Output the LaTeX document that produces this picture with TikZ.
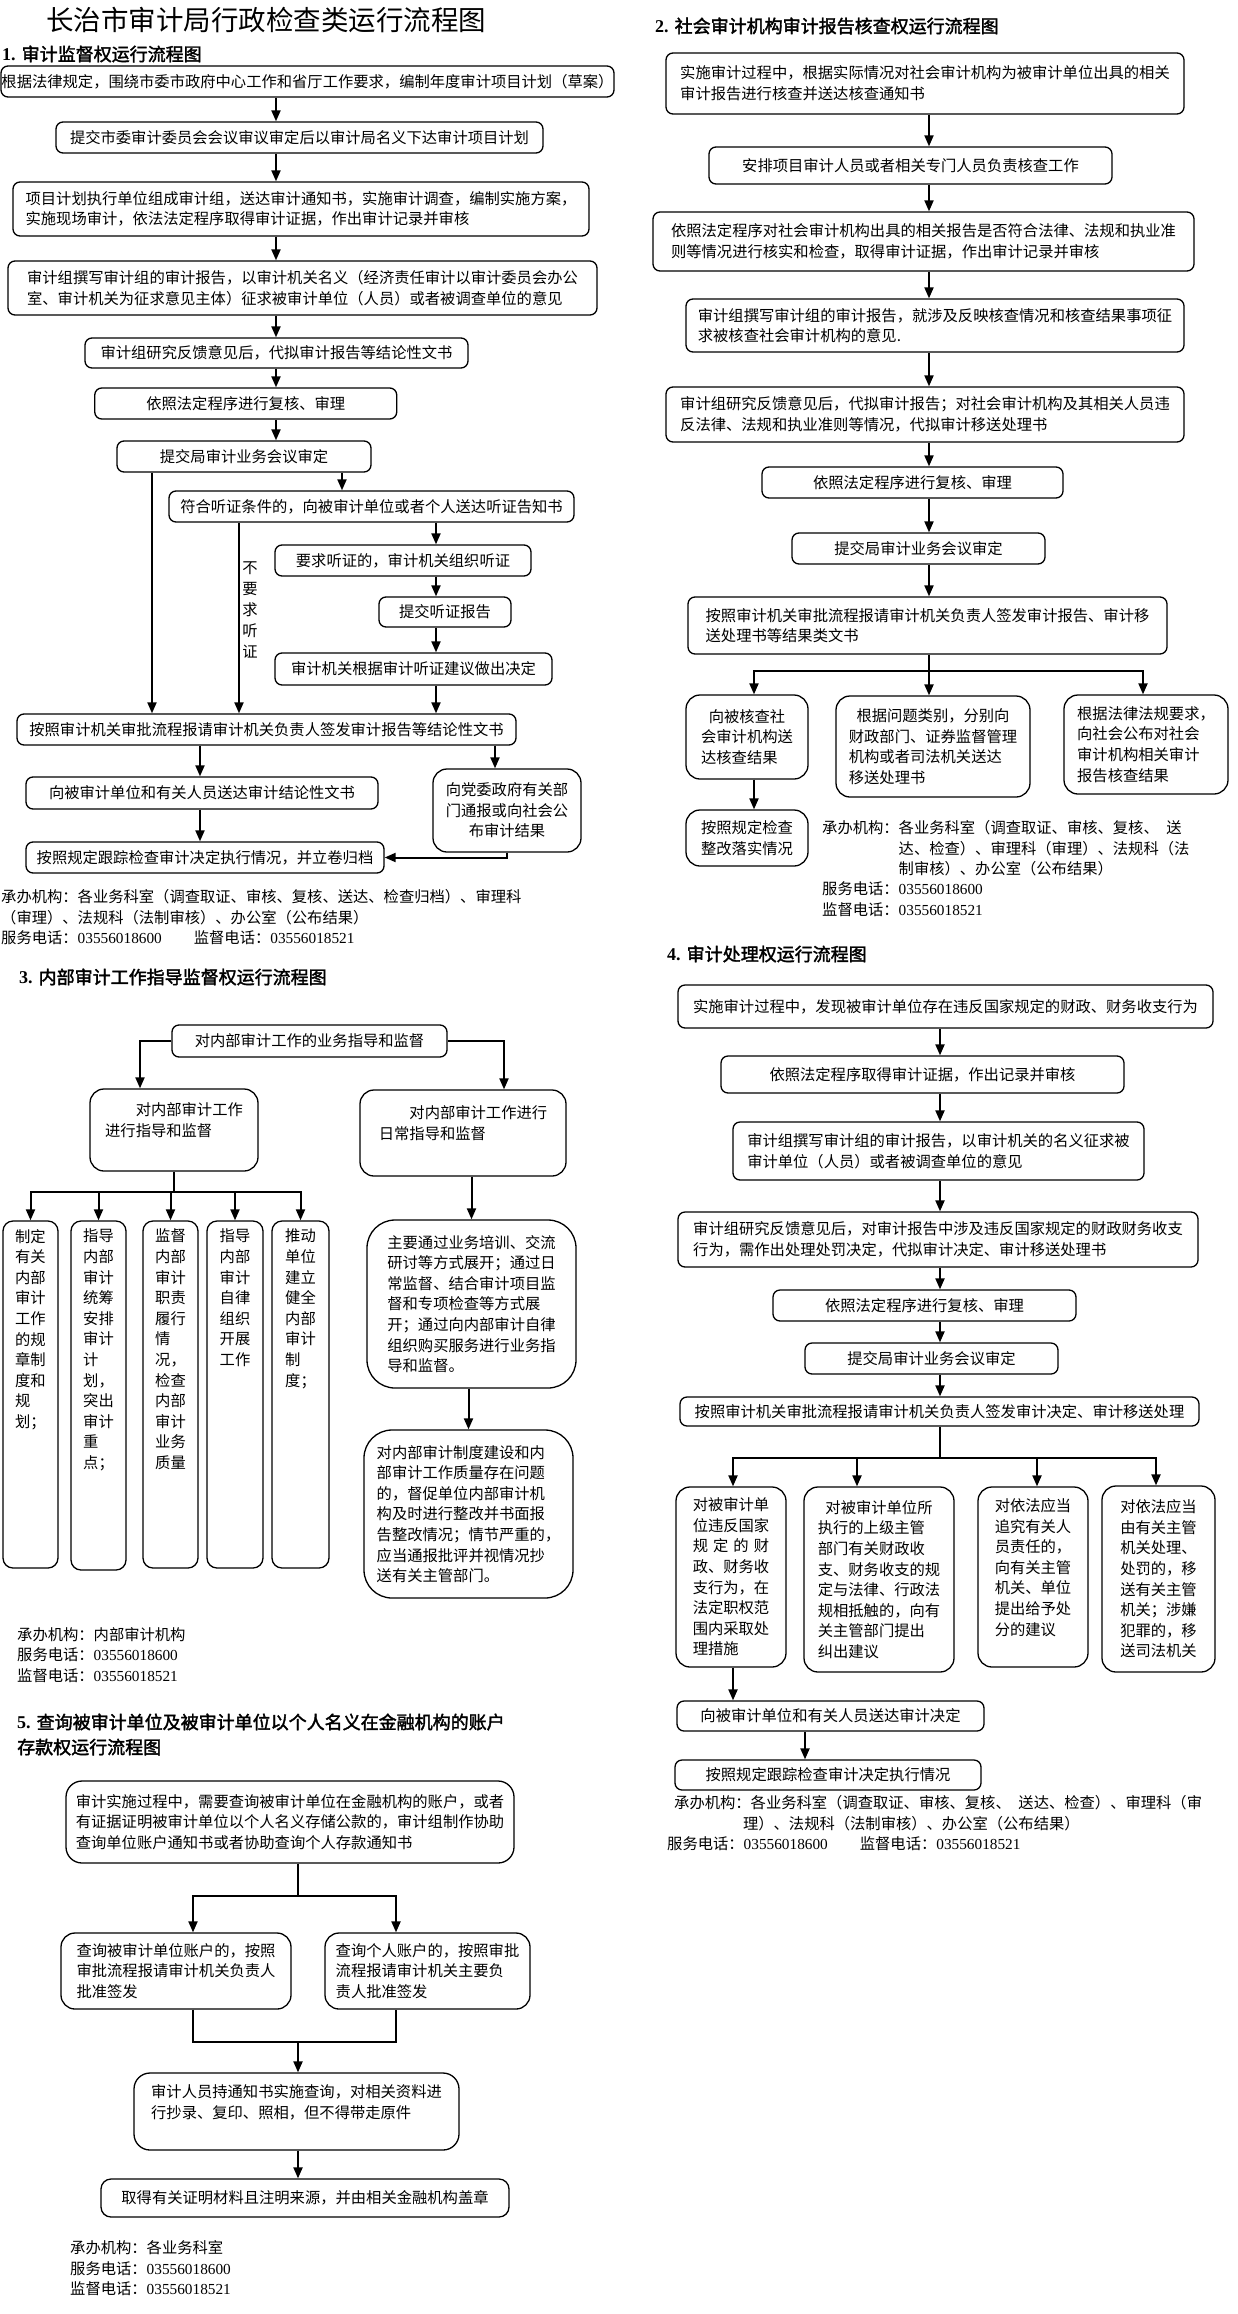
\documentclass[tikz,border=0pt]{standalone}
\usepackage{fontspec}
\setmainfont{Liberation Serif}
\newfontfamily\cjk{Noto Sans CJK SC}[AutoFakeBold=2]
\usetikzlibrary{arrows.meta}

\newcommand{\tel}[1]{{\rmfamily #1}}

\tikzset{
  flowbox/.style={draw, rounded corners=7pt, line width=1.3pt, inner sep=0pt, align=left,
    font=\cjk\fontsize{15.3}{20.6}\selectfont},
  roundbox/.style={flowbox, rounded corners=14pt},
  bigbox/.style={flowbox, rounded corners=28pt},
  arr/.style={line width=2pt, -{Triangle[length=11pt, width=9pt]}},
  link/.style={line width=2pt},
  vtext/.style={anchor=north, inner sep=0pt, align=left, font=\cjk\fontsize{15.3}{20.6}\selectfont},
  notetext/.style={anchor=north west, inner sep=0pt, align=left, font=\cjk\fontsize{15.3}{20.3}\selectfont},
  headtext/.style={anchor=west, inner sep=0pt, align=left, font=\cjk\bfseries\fontsize{18}{25}\selectfont},
}

\begin{document}
\begin{tikzpicture}[x=1pt, y=-1pt]

  \fill[white] (0,0) rectangle (1237,2314);
  \useasboundingbox (0,0) rectangle (1237,2314);

  \node[inner sep=0pt, font=\cjk\fontsize{27.5}{30}\selectfont] (title) at (266,20) {长治市审计局行政检查类运行流程图};

  % -- 1. audit supervision --
  \node[headtext] (h1) at (2,54) {{\rmfamily 1. }审计监督权运行流程图};
  \node[flowbox, minimum width=613, minimum height=31] (a1) at (307.5,81.5) {根据法律规定，围绕市委市政府中心工作和省厅工作要求，编制年度审计项目计划（草案）};
  \node[flowbox, minimum width=487, minimum height=31] (a2) at (299.5,137.5) {提交市委审计委员会会议审议审定后以审计局名义下达审计项目计划};
  \node[flowbox, minimum width=576, minimum height=54] (a3) at (301,209) {项目计划执行单位组成审计组，送达审计通知书，实施审计调查，编制实施方案，\\实施现场审计，依法法定程序取得审计证据，作出审计记录并审核};
  \node[flowbox, minimum width=589, minimum height=54] (a4) at (302.5,288) {审计组撰写审计组的审计报告，以审计机关名义（经济责任审计以审计委员会办公\\室、审计机关为征求意见主体）征求被审计单位（人员）或者被调查单位的意见};
  \node[flowbox, minimum width=383, minimum height=30] (a5) at (276.5,353) {审计组研究反馈意见后，代拟审计报告等结论性文书};
  \node[flowbox, minimum width=302, minimum height=31] (a6) at (245.75,403.5) {依照法定程序进行复核、审理};
  \node[flowbox, minimum width=254, minimum height=31] (a7) at (244,456.5) {提交局审计业务会议审定};
  \node[flowbox, minimum width=405, minimum height=31] (a8) at (371.5,506.5) {符合听证条件的，向被审计单位或者个人送达听证告知书};
  \node[flowbox, minimum width=256, minimum height=31] (a9) at (403,560.5) {要求听证的，审计机关组织听证};
  \node[flowbox, minimum width=132, minimum height=30] (a10) at (445,612) {提交听证报告};
  \node[flowbox, minimum width=277, minimum height=32] (a11) at (413.5,669) {审计机关根据审计听证建议做出决定};
  \node[flowbox, minimum width=499, minimum height=31] (a12) at (266.5,729.5) {按照审计机关审批流程报请审计机关负责人签发审计报告等结论性文书};
  \node[flowbox, minimum width=352, minimum height=32] (a13) at (202,793) {向被审计单位和有关人员送达审计结论性文书};
  \node[roundbox, align=center, minimum width=148, minimum height=83] (a14) at (507,810.5) {向党委政府有关部\\门通报或向社会公\\布审计结果};
  \node[flowbox, minimum width=358, minimum height=31] (a15) at (205,857.5) {按照规定跟踪检查审计决定执行情况，并立卷归档};
  \node[vtext, anchor=center, align=center, font=\cjk\fontsize{15.3}{21}\selectfont] (nohear) at (250,610) {不\\要\\求\\听\\证};

  \coordinate (m1) at (276,0);
  \coordinate (m2) at (152,0);
  \coordinate (m3) at (342,0);
  \coordinate (m4) at (239,0);
  \coordinate (m5) at (436,0);
  \coordinate (m6) at (200,0);
  \coordinate (m7) at (495,0);
  \draw[arr] (a1.south -| m1) -- (a2.north -| m1);
  \draw[arr] (a2.south -| m1) -- (a3.north -| m1);
  \draw[arr] (a3.south -| m1) -- (a4.north -| m1);
  \draw[arr] (a4.south -| m1) -- (a5.north -| m1);
  \draw[arr] (a5.south -| m1) -- (a6.north -| m1);
  \draw[arr] (a6.south -| m1) -- (a7.north -| m1);
  \draw[arr] (a7.south -| m2) -- (a12.north -| m2);
  \draw[arr] (a7.south -| m3) -- (a8.north -| m3);
  \draw[arr] (a8.south -| m4) -- (a12.north -| m4);
  \draw[arr] (a8.south -| m5) -- (a9.north -| m5);
  \draw[arr] (a9.south -| m5) -- (a10.north -| m5);
  \draw[arr] (a10.south -| m5) -- (a11.north -| m5);
  \draw[arr] (a11.south -| m5) -- (a12.north -| m5);
  \draw[arr] (a12.south -| m6) -- (a13.north -| m6);
  \draw[arr] (a13.south -| m6) -- (a15.north -| m6);
  \draw[arr] (a12.south -| m7) -- (a14.north -| m7);
  \draw[arr] (a14.south) |- (a15.east);

  \node[notetext] (s1note) at (1,889.5) {承办机构：各业务科室（调查取证、审核、复核、送达、检查归档）、审理科\\（审理）、法规科（法制审核）、办公室（公布结果）\\服务电话：\tel{03556018600}\hspace{32pt}监督电话：\tel{03556018521}};

  % -- 2. social audit report check --
  \node[headtext] (h2) at (655,26) {{\rmfamily 2. }社会审计机构审计报告核查权运行流程图};
  \node[flowbox, minimum width=518, minimum height=61] (b1) at (925,83.5) {实施审计过程中，根据实际情况对社会审计机构为被审计单位出具的相关\\审计报告进行核查并送达核查通知书};
  \node[flowbox, minimum width=403, minimum height=37] (b2) at (910.5,165.5) {安排项目审计人员或者相关专门人员负责核查工作};
  \node[flowbox, minimum width=541, minimum height=59] (b3) at (923.5,241.5) {依照法定程序对社会审计机构出具的相关报告是否符合法律、法规和执业准\\则等情况进行核实和检查，取得审计证据，作出审计记录并审核};
  \node[flowbox, minimum width=498, minimum height=53] (b4) at (935,325.5) {审计组撰写审计组的审计报告，就涉及反映核查情况和核查结果事项征\\求被核查社会审计机构的意见.};
  \node[flowbox, minimum width=518, minimum height=55] (b5) at (925,414.5) {审计组研究反馈意见后，代拟审计报告；对社会审计机构及其相关人员违\\反法律、法规和执业准则等情况，代拟审计移送处理书};
  \node[flowbox, minimum width=301, minimum height=31] (b6) at (912.5,482.5) {依照法定程序进行复核、审理};
  \node[flowbox, minimum width=253, minimum height=31] (b7) at (918.5,548.5) {提交局审计业务会议审定};
  \node[flowbox, minimum width=479, minimum height=57] (b8) at (927.5,625.5) {按照审计机关审批流程报请审计机关负责人签发审计报告、审计移\\送处理书等结果类文书};
  \node[roundbox, minimum width=122, minimum height=84] (b9) at (747,737) {\hspace*{0.5em}向被核查社\\会审计机构送\\达核查结果};
  \node[roundbox, minimum width=194, minimum height=101] (b10) at (933,746.5) {\hspace*{0.5em}根据问题类别，分别向\\财政部门、证券监督管理\\机构或者司法机关送达\\移送处理书};
  \node[roundbox, minimum width=164, minimum height=99] (b11) at (1146,744.5) {根据法律法规要求，\\向社会公布对社会\\审计机构相关审计\\报告核查结果};
  \node[roundbox, minimum width=122, minimum height=56] (b12) at (747,838) {按照规定检查\\整改落实情况};

  \coordinate (n1) at (929,0);
  \coordinate (n2) at (929,671);
  \coordinate (n3) at (754,671);
  \coordinate (n4) at (1143,671);
  \draw[arr] (b1.south -| n1) -- (b2.north -| n1);
  \draw[arr] (b2.south -| n1) -- (b3.north -| n1);
  \draw[arr] (b3.south -| n1) -- (b4.north -| n1);
  \draw[arr] (b4.south -| n1) -- (b5.north -| n1);
  \draw[arr] (b5.south -| n1) -- (b6.north -| n1);
  \draw[arr] (b6.south -| n1) -- (b7.north -| n1);
  \draw[arr] (b7.south -| n1) -- (b8.north -| n1);
  \draw[link] (b8.south -| n1) -- (n2);
  \draw[link, line cap=rect] (n3) -- (n4);
  \draw[arr] (n3) -- (b9.north -| n3);
  \draw[arr] (n2) -- (b10.north -| n2);
  \draw[arr] (n4) -- (b11.north -| n4);
  \draw[arr] (b9.south -| n3) -- (b12.north -| n3);

  \node[notetext] (s2note) at (822,820.5) {承办机构：各业务科室（调查取证、审核、复核、\hspace{0.5em}送\\\hspace*{5em}达、检查）、审理科（审理）、法规科（法\\\hspace*{5em}制审核）、办公室（公布结果）\\服务电话：\tel{03556018600}\\监督电话：\tel{03556018521}};

  % -- 3. internal audit guidance --
  \node[headtext] (h3) at (19,977) {{\rmfamily 3. }内部审计工作指导监督权运行流程图};
  \node[flowbox, minimum width=275, minimum height=32] (c1) at (309.5,1041) {对内部审计工作的业务指导和监督};
  \node[roundbox, minimum width=168, minimum height=82] (c2) at (174,1130) {\hspace*{2em}对内部审计工作\\进行指导和监督\\\mbox{}};
  \node[roundbox, minimum width=206, minimum height=86] (c3) at (463,1133) {\hspace*{2em}对内部审计工作进行\\日常指导和监督\\\mbox{}};
  \node[roundbox, rounded corners=10pt, minimum width=55, minimum height=347] (d1) at (30.5,1394.5) {};
  \node[roundbox, rounded corners=10pt, minimum width=55, minimum height=349] (d2) at (98.5,1395.5) {};
  \node[roundbox, rounded corners=10pt, minimum width=55, minimum height=347] (d3) at (170.5,1394.5) {};
  \node[roundbox, rounded corners=10pt, minimum width=56, minimum height=347] (d4) at (235,1394.5) {};
  \node[roundbox, rounded corners=10pt, minimum width=57, minimum height=347] (d5) at (300.5,1394.5) {};
  \node[vtext] (d1t) at ([yshift=-8.5pt]d1.north) {制定\\有关\\内部\\审计\\工作\\的规\\章制\\度和\\规\\划；};
  \node[vtext] (d2t) at ([yshift=-8.5pt]d2.north) {指导\\内部\\审计\\统筹\\安排\\审计\\计\\划，\\突出\\审计\\重\\点；};
  \node[vtext] (d3t) at ([yshift=-8.5pt]d3.north) {监督\\内部\\审计\\职责\\履行\\情\\况，\\检查\\内部\\审计\\业务\\质量};
  \node[vtext] (d4t) at ([yshift=-8.5pt]d4.north) {指导\\内部\\审计\\自律\\组织\\开展\\工作};
  \node[vtext] (d5t) at ([yshift=-8.5pt]d5.north) {推动\\单位\\建立\\健全\\内部\\审计\\制\\度；};
  \node[bigbox, minimum width=209, minimum height=168] (c4) at (471.5,1304) {主要通过业务培训、交流\\研讨等方式展开；通过日\\常监督、结合审计项目监\\督和专项检查等方式展\\开；通过向内部审计自律\\组织购买服务进行业务指\\导和监督。};
  \node[bigbox, minimum width=209, minimum height=168] (c5) at (468.5,1514) {对内部审计制度建设和内\\部审计工作质量存在问题\\的，督促单位内部审计机\\构及时进行整改并书面报\\告整改情况；情节严重的，\\应当通报批评并视情况抄\\送有关主管部门。};

  \coordinate (k1) at (140,0);
  \coordinate (k2) at (504,0);
  \coordinate (k3) at (173,1192);
  \draw[arr] (c1.west) -| (c2.north -| k1);
  \draw[arr] (c1.east) -| (c3.north -| k2);
  \draw[link] (c2.south) -- (c2.south |- k3);
  \draw[link, line cap=rect] (d1.north |- k3) -- (d5.north |- k3);
  \draw[arr] (d1.north |- k3) -- (d1.north);
  \draw[arr] (d2.north |- k3) -- (d2.north);
  \draw[arr] (d3.north |- k3) -- (d3.north);
  \draw[arr] (d4.north |- k3) -- (d4.north);
  \draw[arr] (d5.north |- k3) -- (d5.north);
  \draw[arr] (c3.south -| c4.north) -- (c4.north);
  \draw[arr] (c4.south -| c5.north) -- (c5.north);

  \node[notetext] (s3note) at (17,1627.5) {承办机构：内部审计机构\\服务电话：\tel{03556018600}\\监督电话：\tel{03556018521}};

  % -- 4. audit handling --
  \node[headtext] (h4) at (667,954) {{\rmfamily 4. }审计处理权运行流程图};
  \node[flowbox, minimum width=535, minimum height=43] (e1) at (945.5,1006.5) {实施审计过程中，发现被审计单位存在违反国家规定的财政、财务收支行为};
  \node[flowbox, minimum width=403, minimum height=37] (e2) at (922.5,1074.5) {依照法定程序取得审计证据，作出记录并审核};
  \node[flowbox, minimum width=411, minimum height=58] (e3) at (938.5,1151) {审计组撰写审计组的审计报告，以审计机关的名义征求被\\审计单位（人员）或者被调查单位的意见};
  \node[flowbox, minimum width=520, minimum height=55] (e4) at (938,1239.5) {审计组研究反馈意见后，对审计报告中涉及违反国家规定的财政财务收支\\行为，需作出处理处罚决定，代拟审计决定、审计移送处理书};
  \node[flowbox, minimum width=303, minimum height=31] (e5) at (924.5,1305.5) {依照法定程序进行复核、审理};
  \node[flowbox, minimum width=253, minimum height=31] (e6) at (931.5,1358.5) {提交局审计业务会议审定};
  \node[flowbox, minimum width=519, minimum height=29] (e7) at (939.5,1411.5) {按照审计机关审批流程报请审计机关负责人签发审计决定、审计移送处理};
  \node[roundbox, minimum width=110, minimum height=180] (f1) at (731,1577) {对被审计单\\位违反国家\\规\hspace{0.33em}定\hspace{0.33em}的\hspace{0.33em}财\\政、财务收\\支行为，在\\法定职权范\\围内采取处\\理措施};
  \node[roundbox, minimum width=150, minimum height=185] (f2) at (879,1579.5) {\hspace*{0.5em}对被审计单位所\\执行的上级主管\\部门有关财政收\\支、财务收支的规\\定与法律、行政法\\规相抵触的，向有\\关主管部门提出\\纠出建议};
  \node[roundbox, minimum width=110, minimum height=180] (f3) at (1033,1577) {对依法应当\\追究有关人\\员责任的，\\向有关主管\\机关、单位\\提出给予处\\分的建议\\\mbox{}};
  \node[roundbox, minimum width=113, minimum height=186] (f4) at (1158.5,1579) {对依法应当\\由有关主管\\机关处理、\\处罚的，移\\送有关主管\\机关；涉嫌\\犯罪的，移\\送司法机关};
  \node[flowbox, minimum width=307, minimum height=30] (e8) at (830.5,1716) {向被审计单位和有关人员送达审计决定};
  \node[flowbox, minimum width=306, minimum height=30] (e9) at (828,1775) {按照规定跟踪检查审计决定执行情况};

  \coordinate (p1) at (940,0);
  \coordinate (p2) at (940,1458);
  \coordinate (p3) at (805,0);
  \coordinate (q1) at (733,1458);
  \coordinate (q2) at (857,1458);
  \coordinate (q3) at (1037,1458);
  \coordinate (q4) at (1156,1458);
  \draw[arr] (e1.south -| p1) -- (e2.north -| p1);
  \draw[arr] (e2.south -| p1) -- (e3.north -| p1);
  \draw[arr] (e3.south -| p1) -- (e4.north -| p1);
  \draw[arr] (e4.south -| p1) -- (e5.north -| p1);
  \draw[arr] (e5.south -| p1) -- (e6.north -| p1);
  \draw[arr] (e6.south -| p1) -- (e7.north -| p1);
  \draw[link] (e7.south -| p1) -- (p2);
  \draw[link, line cap=rect] (q1) -- (q4);
  \draw[arr] (q1) -- (f1.north -| q1);
  \draw[arr] (q2) -- (f2.north -| q2);
  \draw[arr] (q3) -- (f3.north -| q3);
  \draw[arr] (q4) -- (f4.north -| q4);
  \draw[arr] (f1.south -| q1) -- (e8.north -| q1);
  \draw[arr] (e8.south -| p3) -- (e9.north -| p3);

  \node[notetext] (s4note) at (674,1795.5) {承办机构：各业务科室（调查取证、审核、复核、\hspace{0.5em}送达、检查）、审理科（审\\\hspace*{4.5em}理）、法规科（法制审核）、办公室（公布结果）\\\hspace*{-7pt}服务电话：\tel{03556018600}\hspace{32pt}监督电话：\tel{03556018521}};

  % -- 5. account enquiry --
  \node[headtext] (h5) at (17,1734.5) {{\rmfamily 5. }查询被审计单位及被审计单位以个人名义在金融机构的账户\\存款权运行流程图};
  \node[roundbox, rounded corners=16pt, minimum width=448, minimum height=82] (g1) at (290,1822) {审计实施过程中，需要查询被审计单位在金融机构的账户，或者\\有证据证明被审计单位以个人名义存储公款的，审计组制作协助\\查询单位账户通知书或者协助查询个人存款通知书};
  \node[roundbox, minimum width=230, minimum height=76] (g2) at (176,1971) {查询被审计单位账户的，按照\\审批流程报请审计机关负责人\\批准签发};
  \node[roundbox, minimum width=205, minimum height=76] (g3) at (427.5,1971) {查询个人账户的，按照审批\\流程报请审计机关主要负\\责人批准签发};
  \node[roundbox, rounded corners=16pt, minimum width=325, minimum height=77] (g4) at (296.5,2111.5) {审计人员持通知书实施查询，对相关资料进\\行抄录、复印、照相，但不得带走原件\\\mbox{}};
  \node[flowbox, rounded corners=10pt, minimum width=408, minimum height=38] (g5) at (305,2198) {取得有关证明材料且注明来源，并由相关金融机构盖章};

  \coordinate (r1) at (298,1896);
  \coordinate (r2) at (193,1896);
  \coordinate (r3) at (396,1896);
  \coordinate (r4) at (193,2042);
  \coordinate (r5) at (396,2042);
  \coordinate (r6) at (298,2042);
  \draw[link] (g1.south -| r1) -- (r1);
  \draw[link, line cap=rect] (r2) -- (r3);
  \draw[arr] (r2) -- (g2.north -| r2);
  \draw[arr] (r3) -- (g3.north -| r3);
  \draw[link] (g2.south -| r4) -- (r4) -- (r5) -- (g3.south -| r5);
  \draw[arr] (r6) -- (g4.north -| r6);
  \draw[arr] (g4.south -| r6) -- (g5.north -| r6);

  \node[notetext] (s5note) at (70,2240.5) {承办机构：各业务科室\\服务电话：\tel{03556018600}\\监督电话：\tel{03556018521}};

\end{tikzpicture}
\end{document}
